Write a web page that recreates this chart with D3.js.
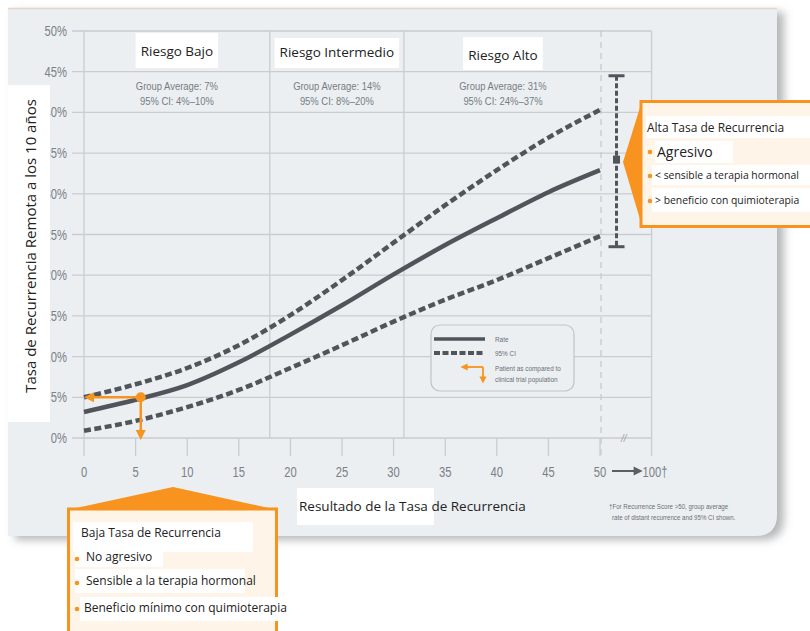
<!DOCTYPE html>
<html><head><meta charset="utf-8">
<script src="https://cdn.jsdelivr.net/npm/d3@7/dist/d3.min.js"></script>
<style>
html,body{margin:0;padding:0;background:#fff;}
svg{display:block;}
</style></head>
<body>
<svg id="chart" width="810" height="631"></svg>
<script>
// ---------- data ----------
const scores = [0, 5, 10, 15, 20, 25, 30, 35, 40, 45, 50];
const rate    = [3.2, 4.7, 6.5, 9.3, 12.7, 16.3, 20.1, 23.7, 27.0, 30.2, 32.9];
const ciUpper = [5.0, 6.6, 8.6, 11.4, 15.1, 19.4, 24.0, 28.6, 32.9, 36.9, 40.3];
const ciLower = [0.9, 2.1, 3.8, 5.9, 8.6, 11.4, 14.3, 17.0, 19.4, 22.1, 24.8];
const xTicks = [0, 5, 10, 15, 20, 25, 30, 35, 40, 45, 50];
const yTicks = [0, 5, 10, 15, 20, 25, 30, 35, 40, 45, 50];
const riskGroups = ["Riesgo Bajo", "Riesgo Intermedio", "Riesgo Alto"];
const groupAverages = ["Group Average: 7%", "Group Average: 14%", "Group Average: 31%"];
const groupCIs = ["95% CI: 4%\u201310%", "95% CI: 8%\u201320%", "95% CI: 24%\u201337%"];
const groupBounds = [0, 18, 31, 50];
const patientScore = 5.5, patientRate = 5;
const highScoreX = 51.6, highLow = 23.5, highMid = 34.2, highHigh = 44.5;
const lowCallout = ["Baja Tasa de Recurrencia", "No agresivo", "Sensible a la terapia hormonal", "Beneficio m\u00ednimo con quimioterapia"];
const highCallout = ["Alta Tasa de Recurrencia", "Agresivo", "< sensible a terapia hormonal", "> beneficio con quimioterapia"];
const legendLabels = ["Rate", "95% CI", "Patient as compared to", "clinical trial population"];
const footnote = ["\u2020For Recurrence Score >50, group average", "rate of distant recurrence and 95% CI shown."];

// ---------- setup ----------
const svg = d3.select("#chart");
const x = d3.scaleLinear().domain([0, 50]).range([84, 600]);
const y = d3.scaleLinear().domain([0, 50]).range([438, 31]);
const xStep = x(5) - x(0);
const xEnd = x(50) + xStep;        // position of "100" (after axis break)
const arial = "'Liberation Sans',Arial,sans-serif";
const sans = "'Open Sans','Noto Sans',sans-serif";
const orange = "#f7931e";
const curveCol = "#50555b";
const gridCol = "#c9cdd1";
const tickCol = "#7a8086";

// condense text horizontally (the reference uses a condensed face)
function condense(sel, ratio) {
  sel.each(function() {
    const len = this.getComputedTextLength();
    d3.select(this).attr("textLength", len * ratio).attr("lengthAdjust", "spacingAndGlyphs");
  });
}

const defs = svg.append("defs");
const sh = defs.append("filter").attr("id","shadow").attr("x","-5%").attr("y","-5%").attr("width","115%").attr("height","115%");
sh.append("feDropShadow").attr("dx",7).attr("dy",4).attr("stdDeviation",4).attr("flood-color","#7a7d80").attr("flood-opacity",0.55);
defs.append("marker").attr("id", "arr").attr("viewBox","0 0 10 10").attr("refX",5).attr("refY",5)
  .attr("markerWidth",4).attr("markerHeight",4).attr("orient","auto-start-reverse")
  .append("path").attr("d","M0,0L10,5L0,10z").attr("fill",orange);

// ---------- panel ----------
const px0 = 8, py0 = 8, px1 = 777, py1 = 536, r = 22;
svg.append("path")
  .attr("d", `M${px0},${py0}H${px1}V${py1-r}Q${px1},${py1} ${px1-r},${py1}H${px0}Z`)
  .attr("fill", "#eceff2").attr("filter","url(#shadow)");
svg.append("line").attr("x1",px0).attr("x2",px1).attr("y1",py0+0.5).attr("y2",py0+0.5)
  .attr("stroke","#e4d6cc").attr("stroke-width",1.5);

// ---------- grid ----------
const g = svg.append("g");
g.selectAll("line.hg").data(yTicks).join("line")
  .attr("x1", 72).attr("x2", xEnd).attr("y1", d => y(d)).attr("y2", d => y(d))
  .attr("stroke", gridCol).attr("stroke-width", 1.3);
g.append("line").attr("x1", x(0)).attr("x2", x(0)).attr("y1", y(50)).attr("y2", y(0)).attr("stroke", gridCol).attr("stroke-width",1.3);
g.selectAll("line.vb").data(groupBounds.slice(1,3)).join("line")
  .attr("x1", d => x(d)).attr("x2", d => x(d)).attr("y1", y(50)).attr("y2", y(0))
  .attr("stroke", gridCol).attr("stroke-width", 1.3);
g.append("line").attr("x1", x(50)+1).attr("x2", x(50)+1).attr("y1", y(50)).attr("y2", y(0)+18)
  .attr("stroke", "#c3c7cb").attr("stroke-width", 1.2).attr("stroke-dasharray","6,5");
g.append("line").attr("x1", xEnd).attr("x2", xEnd).attr("y1", y(50)).attr("y2", y(0)+18)
  .attr("stroke", gridCol).attr("stroke-width", 1.3);
g.append("text").attr("x", (x(50)+xEnd)/2 - 2).attr("y", y(0)+4).attr("text-anchor","middle")
  .attr("font-family", arial).attr("font-size", 10).attr("font-style","italic").attr("fill","#9aa0a6").text("//");

// x ticks
g.selectAll("line.xt").data(xTicks).join("line")
  .attr("x1", d => x(d)).attr("x2", d => x(d)).attr("y1", y(0)).attr("y2", y(0)+18)
  .attr("stroke", gridCol).attr("stroke-width", 1.3);
g.selectAll("text.xt").data(xTicks).join("text")
  .attr("x", d => x(d)).attr("y", 477).attr("text-anchor","middle")
  .attr("font-family", arial).attr("font-size", 14).attr("fill",tickCol).text(d => d)
  .call(condense, 0.8);
// arrow 50 -> 100
g.append("line").attr("x1", x(50)+12).attr("x2", xEnd-14).attr("y1", 471).attr("y2", 471)
  .attr("stroke","#5a5f64").attr("stroke-width",2);
g.append("path").attr("d", `M${xEnd-18},466.5L${xEnd-9},471L${xEnd-18},475.5Z`).attr("fill","#5a5f64");
g.append("text").attr("x", xEnd-9).attr("y", 477).attr("text-anchor","start")
  .attr("font-family", arial).attr("font-size", 14).attr("fill",tickCol).text("100\u2020")
  .call(condense, 0.8);

// y tick labels
g.selectAll("text.yt").data(yTicks).join("text")
  .attr("x", 67).attr("y", d => y(d)+5).attr("text-anchor","end")
  .attr("font-family", arial).attr("font-size", 14).attr("fill",tickCol).text(d => d + "%")
  .call(condense, 0.8);

// ---------- curves ----------
const line = (vals) => d3.line().x((d,i) => x(scores[i])).y(d => y(d)).curve(d3.curveMonotoneX)(vals);
svg.append("path").attr("d", line(ciUpper)).attr("fill","none").attr("stroke",curveCol).attr("stroke-width",4.5).attr("stroke-dasharray","7,3.5");
svg.append("path").attr("d", line(ciLower)).attr("fill","none").attr("stroke",curveCol).attr("stroke-width",4.5).attr("stroke-dasharray","7,3.5");
svg.append("path").attr("d", line(rate)).attr("fill","none").attr("stroke",curveCol).attr("stroke-width",4.5);

// ---------- high score error bar ----------
const eb = svg.append("g").attr("stroke", curveCol);
eb.append("line").attr("x1", x(highScoreX)).attr("x2", x(highScoreX)).attr("y1", y(highHigh)).attr("y2", y(highLow))
  .attr("stroke-width", 3).attr("stroke-dasharray","5,2.5");
eb.selectAll("line.cap").data([highHigh, highLow]).join("line")
  .attr("x1", x(highScoreX)-8).attr("x2", x(highScoreX)+8).attr("y1", d => y(d)).attr("y2", d => y(d)).attr("stroke-width",3);
svg.append("rect").attr("x", x(highScoreX)-3.5).attr("y", y(highMid)-4).attr("width",7).attr("height",8).attr("fill",curveCol);

// ---------- patient marker ----------
svg.append("line").attr("x1", x(patientScore)).attr("x2", x(0)+5).attr("y1", y(patientRate)).attr("y2", y(patientRate))
  .attr("stroke", orange).attr("stroke-width", 2.5).attr("marker-end","url(#arr)");
svg.append("line").attr("x1", x(patientScore)).attr("x2", x(patientScore)).attr("y1", y(patientRate)).attr("y2", y(0)-3)
  .attr("stroke", orange).attr("stroke-width", 2.5).attr("marker-end","url(#arr)");
svg.append("circle").attr("cx", x(patientScore)).attr("cy", y(patientRate)).attr("r", 5).attr("fill", orange);

// ---------- group labels ----------
riskGroups.forEach((name, i) => {
  const cx = (x(groupBounds[i]) + x(groupBounds[i+1])) / 2 + (i === 2 ? 1 : 0);
  const ty = [56, 57, 60][i];
  const t = svg.append("text").attr("x", cx).attr("y", ty).attr("text-anchor","middle")
    .attr("font-family", sans).attr("font-size", 13.5).attr("fill","#222").text(name);
  const bb = t.node().getBBox();
  svg.insert("rect", () => t.node()).attr("x", bb.x-5).attr("y", [33,38,37][i]).attr("width", bb.width+10).attr("height", [35,30,33][i]).attr("fill","#fff");
  svg.append("text").attr("x", cx).attr("y", 90).attr("text-anchor","middle")
    .attr("font-family", arial).attr("font-size", 11.5).attr("fill","#767c82").text(groupAverages[i])
    .call(condense, 0.82);
  svg.append("text").attr("x", cx).attr("y", 105).attr("text-anchor","middle")
    .attr("font-family", arial).attr("font-size", 11.5).attr("fill","#767c82").text(groupCIs[i])
    .call(condense, 0.82);
});

// ---------- legend ----------
const lg = svg.append("g");
lg.append("rect").attr("x", 431).attr("y", 325).attr("width", 143).attr("height", 66).attr("rx", 9)
  .attr("fill","#eceff2").attr("stroke","#bfc3c7").attr("stroke-width",1.2);
lg.append("line").attr("x1",434).attr("x2",485).attr("y1",339).attr("y2",339).attr("stroke",curveCol).attr("stroke-width",3.5);
lg.append("line").attr("x1",434).attr("x2",485).attr("y1",353).attr("y2",353).attr("stroke",curveCol).attr("stroke-width",4).attr("stroke-dasharray","6,2.5");
lg.append("line").attr("x1",483).attr("x2",464).attr("y1",367).attr("y2",367).attr("stroke",orange).attr("stroke-width",1.8).attr("marker-end","url(#arr)");
lg.append("line").attr("x1",483).attr("x2",483).attr("y1",367).attr("y2",380).attr("stroke",orange).attr("stroke-width",1.8).attr("marker-end","url(#arr)");
lg.selectAll("text").data(legendLabels).join("text")
  .attr("x", 495).attr("y", (d,i) => [342, 356, 371, 382][i])
  .attr("font-family", arial).attr("font-size", 8).attr("fill","#6a7076").text(d => d)
  .call(condense, 0.8);

// ---------- axis titles ----------
svg.append("rect").attr("x", 8).attr("y", 85).attr("width", 42).attr("height", 337).attr("fill","#fff");
svg.append("text").attr("transform","translate(36,246) rotate(-90)").attr("text-anchor","middle")
  .attr("font-family", sans).attr("font-size", 15).attr("fill","#222")
  .text("Tasa de Recurrencia Remota a los 10 a\u00f1os");
svg.append("rect").attr("x", 297).attr("y", 488).attr("width", 137).attr("height", 37).attr("fill","#fff");
svg.append("text").attr("x", 299).attr("y", 511)
  .attr("font-family", sans).attr("font-size", 13.5).attr("fill","#222").text("Resultado de la Tasa de Recurrencia");

// footnote
svg.selectAll("text.fn").data(footnote).join("text").attr("class","fn")
  .attr("x", (d,i) => 609 + i*3).attr("y", (d,i) => 509 + i*11)
  .attr("font-family", arial).attr("font-size", 7.5).attr("fill","#6a7076").text(d => d)
  .call(condense, 0.82);

// ---------- callouts ----------
// low (bottom)
const lc = svg.append("g");
lc.append("path").attr("d","M67,510L173,487L278,510Z").attr("fill",orange);
lc.append("rect").attr("x",68.5).attr("y",509).attr("width",208).attr("height",130)
  .attr("fill","#fff4e8").attr("stroke",orange).attr("stroke-width",3);
[[73,522,180,30],[75,545,88,22],[75,569,170,24],[80,597,198,24]].forEach(b =>
  lc.append("rect").attr("x",b[0]).attr("y",b[1]).attr("width",b[2]).attr("height",b[3]).attr("fill","#fff"));
lc.selectAll("text").data(lowCallout).join("text")
  .attr("x", (d,i) => [81, 86, 86, 84][i]).attr("y", (d,i) => [537, 561, 585, 612][i])
  .attr("font-family", sans).attr("font-size", 12).attr("fill","#222").text(d => d);
lc.selectAll("circle").data(lowCallout.slice(1)).join("circle")
  .attr("cx", 77).attr("cy", (d,i) => [559, 583, 609][i]).attr("r", 2.3).attr("fill", orange);

// high (right)
const hc = svg.append("g");
hc.append("path").attr("d","M623,162L642,101V226Z").attr("fill",orange);
hc.append("rect").attr("x",641).attr("y",101.5).attr("width",190).attr("height",125)
  .attr("fill","#fff4e8").attr("stroke",orange).attr("stroke-width",3);
[[646,116,170,22],[655,141,78,22],[652,165,170,20],[652,188,170,24]].forEach(b =>
  hc.append("rect").attr("x",b[0]).attr("y",b[1]).attr("width",b[2]).attr("height",b[3]).attr("fill","#fff"));
hc.selectAll("text").data(highCallout).join("text")
  .attr("x", (d,i) => [647, 657, 655, 655][i]).attr("y", (d,i) => [132, 157, 179, 204][i])
  .attr("font-family", sans).attr("font-size", (d,i) => [12, 14, 10.4, 10.4][i]).attr("fill","#222").text(d => d);
hc.selectAll("circle").data(highCallout.slice(1)).join("circle")
  .attr("cx", 650).attr("cy", (d,i) => [152, 176, 201][i]).attr("r", 2.3).attr("fill", orange);
</script>
</body></html>
